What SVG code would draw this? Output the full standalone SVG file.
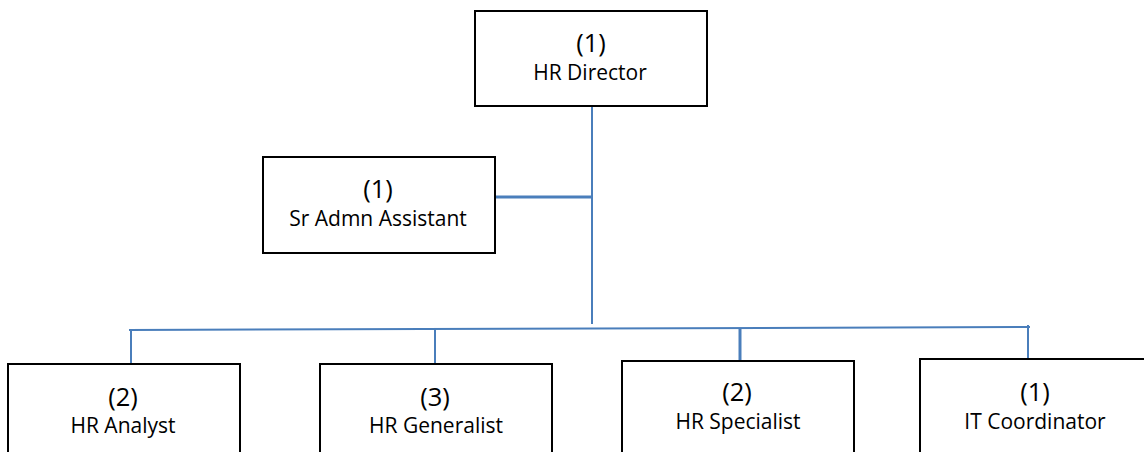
<svg xmlns="http://www.w3.org/2000/svg" width="1144" height="452" viewBox="0 0 1144 452">
  <style>
    .box { fill: #ffffff; stroke: #000000; stroke-width: 2; }
    .num { font-family: "Open Sans", "Liberation Sans", sans-serif; font-size: 25.5px; fill: #000000; text-anchor: middle; }
    .lbl { font-family: "Open Sans", "Liberation Sans", sans-serif; font-size: 21px; fill: #000000; text-anchor: middle; }
    .conn { stroke: #4a7ebb; stroke-width: 2; fill: none; }
    .thick { stroke-width: 3; }
  </style>
  <rect width="1144" height="452" fill="#ffffff"/>
  <g id="connectors">
    <line class="conn" x1="592" y1="107" x2="592" y2="324"/>
    <line class="conn thick" x1="495" y1="197" x2="592" y2="197"/>
    <line class="conn" x1="129" y1="330" x2="1030" y2="327"/>
    <line class="conn" x1="131" y1="330" x2="131" y2="364"/>
    <line class="conn" x1="435" y1="329" x2="435" y2="364"/>
    <line class="conn thick" x1="740" y1="328" x2="740" y2="361"/>
    <line class="conn" x1="1028" y1="325" x2="1028" y2="359"/>
  </g>
  <g id="hr-director">
    <rect class="box" x="475" y="11" width="232" height="95"/>
    <text class="num" x="591" y="52">(1)</text>
    <text class="lbl" x="590" y="80">HR Director</text>
  </g>
  <g id="sr-admn-assistant">
    <rect class="box" x="263" y="157" width="232" height="96"/>
    <text class="num" x="378" y="198">(1)</text>
    <text class="lbl" x="378" y="226">Sr Admn Assistant</text>
  </g>
  <g id="hr-analyst">
    <rect class="box" x="8" y="364" width="232" height="120"/>
    <text class="num" x="123" y="406">(2)</text>
    <text class="lbl" x="123" y="433">HR Analyst</text>
  </g>
  <g id="hr-generalist">
    <rect class="box" x="320" y="364" width="232" height="120"/>
    <text class="num" x="435" y="406">(3)</text>
    <text class="lbl" x="436" y="433">HR Generalist</text>
  </g>
  <g id="hr-specialist">
    <rect class="box" x="622" y="361" width="232" height="120"/>
    <text class="num" x="737" y="401">(2)</text>
    <text class="lbl" x="738" y="429">HR Specialist</text>
  </g>
  <g id="it-coordinator">
    <rect class="box" x="920" y="359" width="240" height="120"/>
    <text class="num" x="1035" y="401">(1)</text>
    <text class="lbl" x="1035" y="429">IT Coordinator</text>
  </g>
</svg>
